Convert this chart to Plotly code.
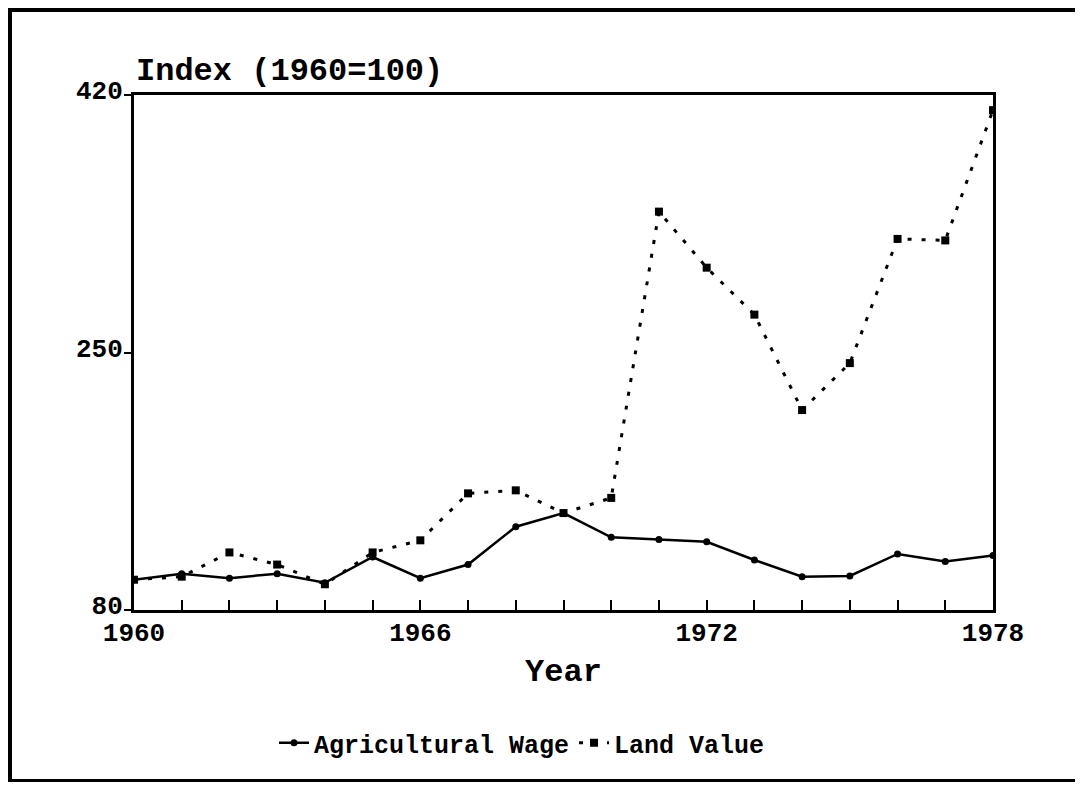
import plotly.graph_objects as go

years = list(range(1960, 1979))
wage = [100, 104, 101, 104, 98, 115, 101, 110, 135, 144, 128, 126.5, 125, 113, 102, 102.5, 117, 112, 116]
land = [100, 102, 118, 110, 97, 118, 126, 157, 159, 144, 154, 343, 306, 275, 212, 243, 325, 324, 410]
x_tick_vals = [1960, 1966, 1972, 1978]
y_tick_vals = [80, 250, 420]

FONT = "Liberation Mono"

fig = go.Figure()
fig.add_trace(go.Scatter(
    x=years, y=wage, name="Agricultural Wage", mode="lines+markers",
    line=dict(color="black", width=2.5),
    marker=dict(symbol="circle", size=7, color="black"),
))
fig.add_trace(go.Scatter(
    x=years, y=land, name="Land Value", mode="lines+markers",
    line=dict(color="black", width=3, dash="4px,10px"),
    marker=dict(symbol="square", size=8, color="black"),
))

# page body has an 8px margin, so work in viewport coordinates shifted by 8
OFF = 8
W, H = 1072, 790 - 2 * OFF
L, T = 134 - OFF, 95 - OFF
R = (OFF + W) - 993
B = 790 - 610 - OFF
pw, ph = W - L - R, H - T - B

def px(xp):
    return (xp - OFF - L) / pw

def py(yp):
    return (H - B - (yp - OFF)) / ph

fig.update_layout(
    width=W, height=H,
    margin=dict(l=L, r=R, t=T, b=B),
    paper_bgcolor="white", plot_bgcolor="white",
    font=dict(family=FONT, color="black", size=26, weight="bold"),
    showlegend=True,
    legend=dict(orientation="h", x=px(522), xanchor="center", y=py(743), yanchor="middle",
                font=dict(size=25, family=FONT, weight="bold"), itemwidth=30,
                tracegroupgap=0, bgcolor="rgba(0,0,0,0)"),
    xaxis=dict(range=[1960, 1978], tickvals=x_tick_vals, ticktext=[str(v) for v in x_tick_vals],
               ticks="inside", ticklen=10, tickwidth=2, tickcolor="black",
               minor=dict(dtick=1, tick0=1960, ticks="inside", ticklen=10, tickwidth=2, tickcolor="black"),
               showline=True, linecolor="black", linewidth=3, mirror=True,
               showgrid=False, zeroline=False, ticklabelstandoff=-3,
               tickfont=dict(size=26, family=FONT, weight="bold"),
               title=dict(text="Year", font=dict(size=32, family=FONT, weight="bold"), standoff=11)),
    yaxis=dict(range=[80, 420], tickvals=y_tick_vals, ticktext=[str(v) for v in y_tick_vals],
               ticks="outside", ticklen=7, tickwidth=2, tickcolor="black",
               showline=True, linecolor="black", linewidth=3, mirror=True,
               showgrid=False, zeroline=False, ticklabelstandoff=-4, ticklabelshift=-5,
               tickfont=dict(size=26, family=FONT, weight="bold")),
    annotations=[dict(text="Index (1960=100)", xref="paper", yref="paper",
                      x=px(134), y=py(72), xanchor="left", yanchor="middle", showarrow=False,
                      font=dict(size=32, family=FONT, weight="bold"))],
    shapes=[dict(type="rect", xref="paper", yref="paper",
                 x0=px(10), x1=px(1077), y0=py(781), y1=py(10),
                 line=dict(color="black", width=4))],
)

fig.write_html("out.html")
